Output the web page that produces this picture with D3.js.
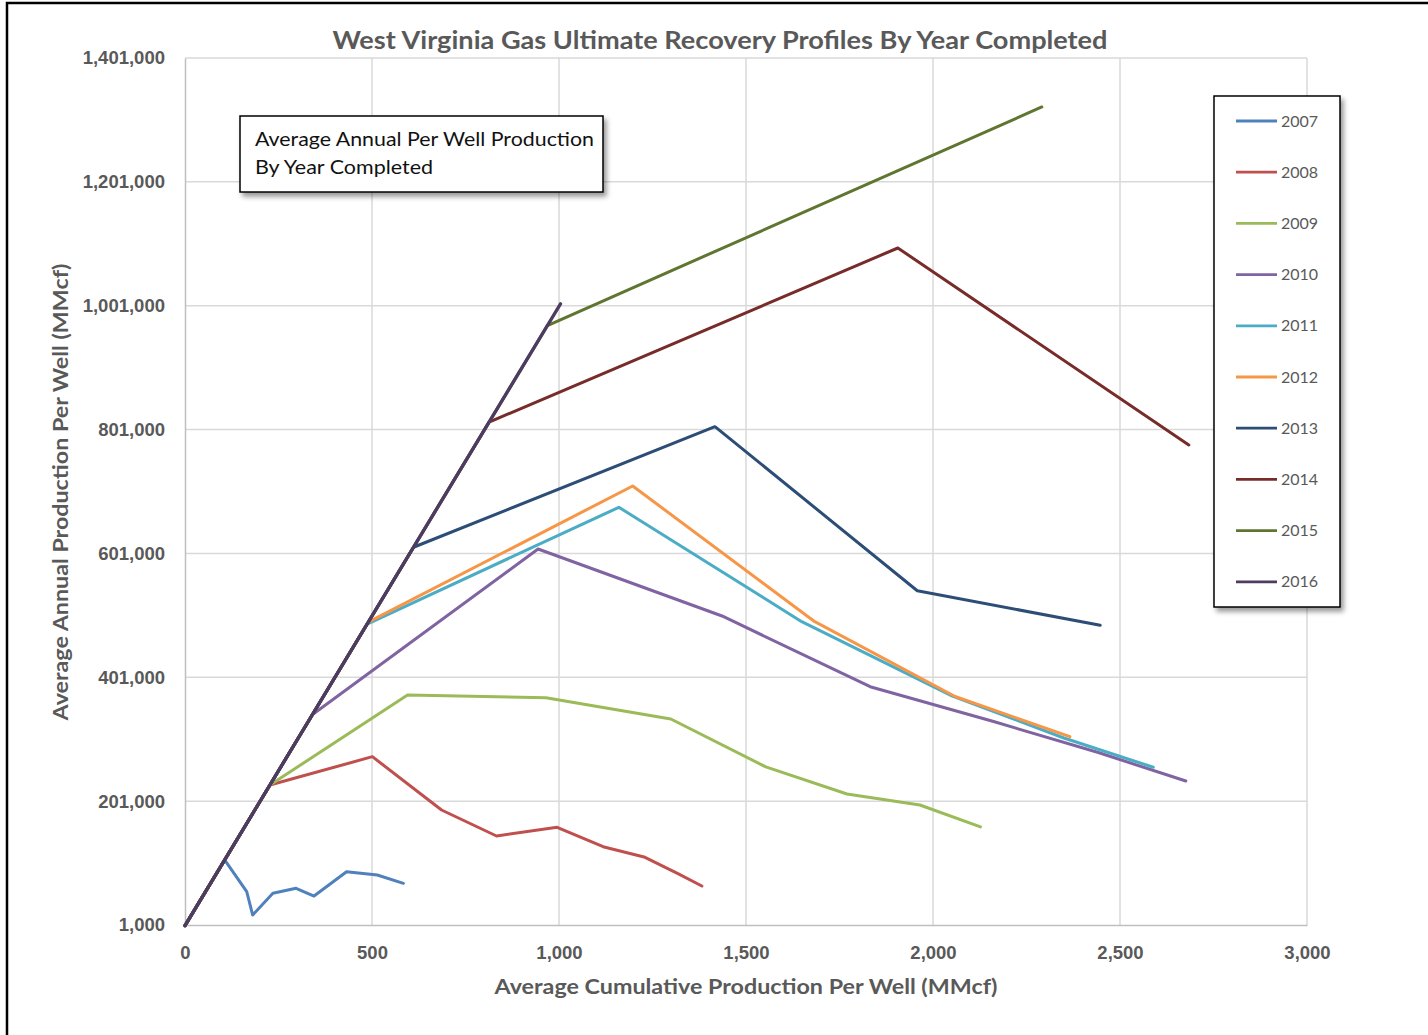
<!DOCTYPE html>
<html>
<head>
<meta charset="utf-8">
<script src="https://cdn.jsdelivr.net/npm/d3@7"></script>
<style>
  body { margin: 0; background: #fff; }
  svg { display: block; font-family: Lato, "Open Sans", sans-serif; }
</style>
</head>
<body>
<svg id="chart" width="1428" height="1035"></svg>
<script>
// years shown in the legend
const years = ["2007", "2008", "2009", "2010", "2011", "2012", "2013", "2014", "2015", "2016"];
const colors = ["#4F81BD", "#C0504D", "#9BBB59", "#8064A2", "#4BACC6", "#F79646", "#2C4D75", "#772C2A", "#5F7530", "#4D3B62"];

// cumulative production (MMcf) and annual production per well, one pair of arrays per year
const cum2007 = [0, 106, 165, 181, 235, 297, 345, 432, 514, 584];
const ann2007 = [0, 106000, 54800, 17100, 52200, 60300, 47800, 87100, 81700, 68300];
const cum2008 = [0, 227, 501, 686, 833, 995, 1118, 1230, 1318, 1382];
const ann2008 = [0, 227000, 272800, 186700, 144700, 158800, 127400, 110300, 84000, 64000];
const cum2009 = [0, 227, 595, 965, 1299, 1553, 1770, 1965, 2127];
const ann2009 = [0, 227000, 372400, 368000, 333600, 256300, 212500, 194800, 159500];
const cum2010 = [0, 341, 944, 1436, 1832, 2162, 2442, 2676];
const ann2010 = [0, 341000, 608200, 500000, 385800, 329500, 279500, 233500];
const cum2011 = [0, 487, 1160, 1649, 2052, 2350, 2589];
const ann2011 = [0, 487000, 675500, 490800, 370500, 303000, 255700];
const cum2012 = [0, 490, 1197, 1684, 2059, 2366];
const ann2012 = [0, 490000, 709900, 490800, 370000, 305100];
const cum2013 = [0, 611, 1417, 1958, 2447];
const ann2013 = [0, 611000, 805700, 540800, 485000];
const cum2014 = [0, 813, 1906, 2684];
const ann2014 = [0, 813000, 1094200, 776100];
const cum2015 = [0, 969, 2291];
const ann2015 = [0, 969000, 1321900];
const cum2016 = [0, 1004];
const ann2016 = [0, 1004000];

const xTicks = [0, 500, 1000, 1500, 2000, 2500, 3000];
const yTicks = [1000, 201000, 401000, 601000, 801000, 1001000, 1201000, 1401000];

const cums = [cum2007, cum2008, cum2009, cum2010, cum2011, cum2012, cum2013, cum2014, cum2015, cum2016];
const anns = [ann2007, ann2008, ann2009, ann2010, ann2011, ann2012, ann2013, ann2014, ann2015, ann2016];

const series = years.map((year, i) => ({
    year,
    color: colors[i],
    points: cums[i].map((c, j) => ({x: c, y: anns[i][j]}))
}));

const svg = d3.select("#chart");
const textGray = "#595959";

// drop shadow for the two boxes
const defs = svg.append("defs");
defs.append("filter")
    .attr("id", "shadow")
    .attr("x", "-10%").attr("y", "-10%")
    .attr("width", "130%").attr("height", "130%")
    .append("feDropShadow")
    .attr("dx", 3).attr("dy", 4)
    .attr("stdDeviation", 2.5)
    .attr("flood-color", "#000")
    .attr("flood-opacity", 0.4);

// outer chart frame (top and left edges are visible)
svg.append("path")
    .attr("d", "M7,1036 L7,3 L1430,3")
    .attr("fill", "none")
    .attr("stroke", "#000")
    .attr("stroke-width", 2.5);

const x = d3.scaleLinear().domain([0, 3000]).range([185, 1307]);
const y = d3.scaleLinear().domain([1000, 1401000]).range([925, 58]);

// gridlines
const grid = svg.append("g").attr("stroke", "#D9D9D9").attr("stroke-width", 1.5);
grid.selectAll("line.v")
    .data(xTicks.slice(1))
    .join("line")
    .attr("x1", d => x(d)).attr("x2", d => x(d))
    .attr("y1", y(1401000)).attr("y2", y(1000));
grid.selectAll("line.h")
    .data(yTicks.slice(1))
    .join("line")
    .attr("x1", x(0)).attr("x2", x(3000))
    .attr("y1", d => y(d)).attr("y2", d => y(d));

// axes
const xAxis = svg.append("g")
    .attr("transform", `translate(0,${y(1000)})`)
    .call(d3.axisBottom(x).tickValues(xTicks).tickFormat(d3.format(",")).tickSize(0).tickPadding(21));
const yAxis = svg.append("g")
    .attr("transform", `translate(${x(0)},0)`)
    .call(d3.axisLeft(y).tickValues(yTicks).tickFormat(d3.format(",")).tickSize(0).tickPadding(20));

[xAxis, yAxis].forEach(a => {
    a.select(".domain").attr("stroke", "#BFBFBF").attr("stroke-width", 1.5);
    a.selectAll("text")
        .attr("fill", textGray)
        .attr("font-size", 18.5)
        .attr("font-weight", "bold");
});

// series lines, 2016 drawn last so it sits on top of the shared first leg
const line = d3.line().x(d => x(d.x)).y(d => y(d.y));
svg.append("g")
    .selectAll("path")
    .data(series)
    .join("path")
    .attr("d", d => line(d.points))
    .attr("fill", "none")
    .attr("stroke", d => d.color)
    .attr("stroke-width", d => d.year == "2016" ? 3.3 : 3)
    .attr("stroke-linejoin", "round")
    .attr("stroke-linecap", "round");

// title and axis titles
svg.append("text")
    .attr("x", 720).attr("y", 49)
    .attr("text-anchor", "middle")
    .attr("font-size", 25)
    .attr("font-weight", "bold")
    .attr("fill", textGray)
    .attr("textLength", 775)
    .attr("lengthAdjust", "spacingAndGlyphs")
    .text("West Virginia Gas Ultimate Recovery Profiles By Year Completed");

svg.append("text")
    .attr("x", 746).attr("y", 994)
    .attr("text-anchor", "middle")
    .attr("font-size", 21)
    .attr("font-weight", "bold")
    .attr("fill", textGray)
    .attr("textLength", 503)
    .attr("lengthAdjust", "spacingAndGlyphs")
    .text("Average Cumulative Production Per Well (MMcf)");

svg.append("text")
    .attr("transform", "translate(68,492) rotate(-90)")
    .attr("text-anchor", "middle")
    .attr("font-size", 21)
    .attr("font-weight", "bold")
    .attr("fill", textGray)
    .attr("textLength", 457)
    .attr("lengthAdjust", "spacingAndGlyphs")
    .text("Average Annual Production Per Well (MMcf)");

// annotation box
const note = svg.append("g");
note.append("rect")
    .attr("x", 240).attr("y", 116)
    .attr("width", 363).attr("height", 76)
    .attr("fill", "#fff")
    .attr("stroke", "#000")
    .attr("stroke-width", 1.5)
    .attr("filter", "url(#shadow)");
["Average Annual Per Well Production", "By Year Completed"].forEach((t, i) => {
    note.append("text")
        .attr("x", 255).attr("y", 146 + i * 28)
        .attr("font-size", 20)
        .attr("fill", "#111")
        .attr("textLength", i == 0 ? 339 : 178)
        .attr("lengthAdjust", "spacingAndGlyphs")
        .text(t);
});

// legend
const legend = svg.append("g");
legend.append("rect")
    .attr("x", 1214).attr("y", 96)
    .attr("width", 126).attr("height", 511)
    .attr("fill", "#fff")
    .attr("stroke", "#000")
    .attr("stroke-width", 1.5)
    .attr("filter", "url(#shadow)");
const items = legend.selectAll("g.item")
    .data(series)
    .join("g")
    .attr("transform", (d, i) => `translate(0,${121 + i * 51.2})`);
items.append("line")
    .attr("x1", 1236).attr("x2", 1277)
    .attr("stroke", d => d.color)
    .attr("stroke-width", 2.8);
items.append("text")
    .attr("x", 1281).attr("dy", "0.35em")
    .attr("font-size", 16)
    .attr("fill", textGray)
    .text(d => d.year);
</script>
</body>
</html>
